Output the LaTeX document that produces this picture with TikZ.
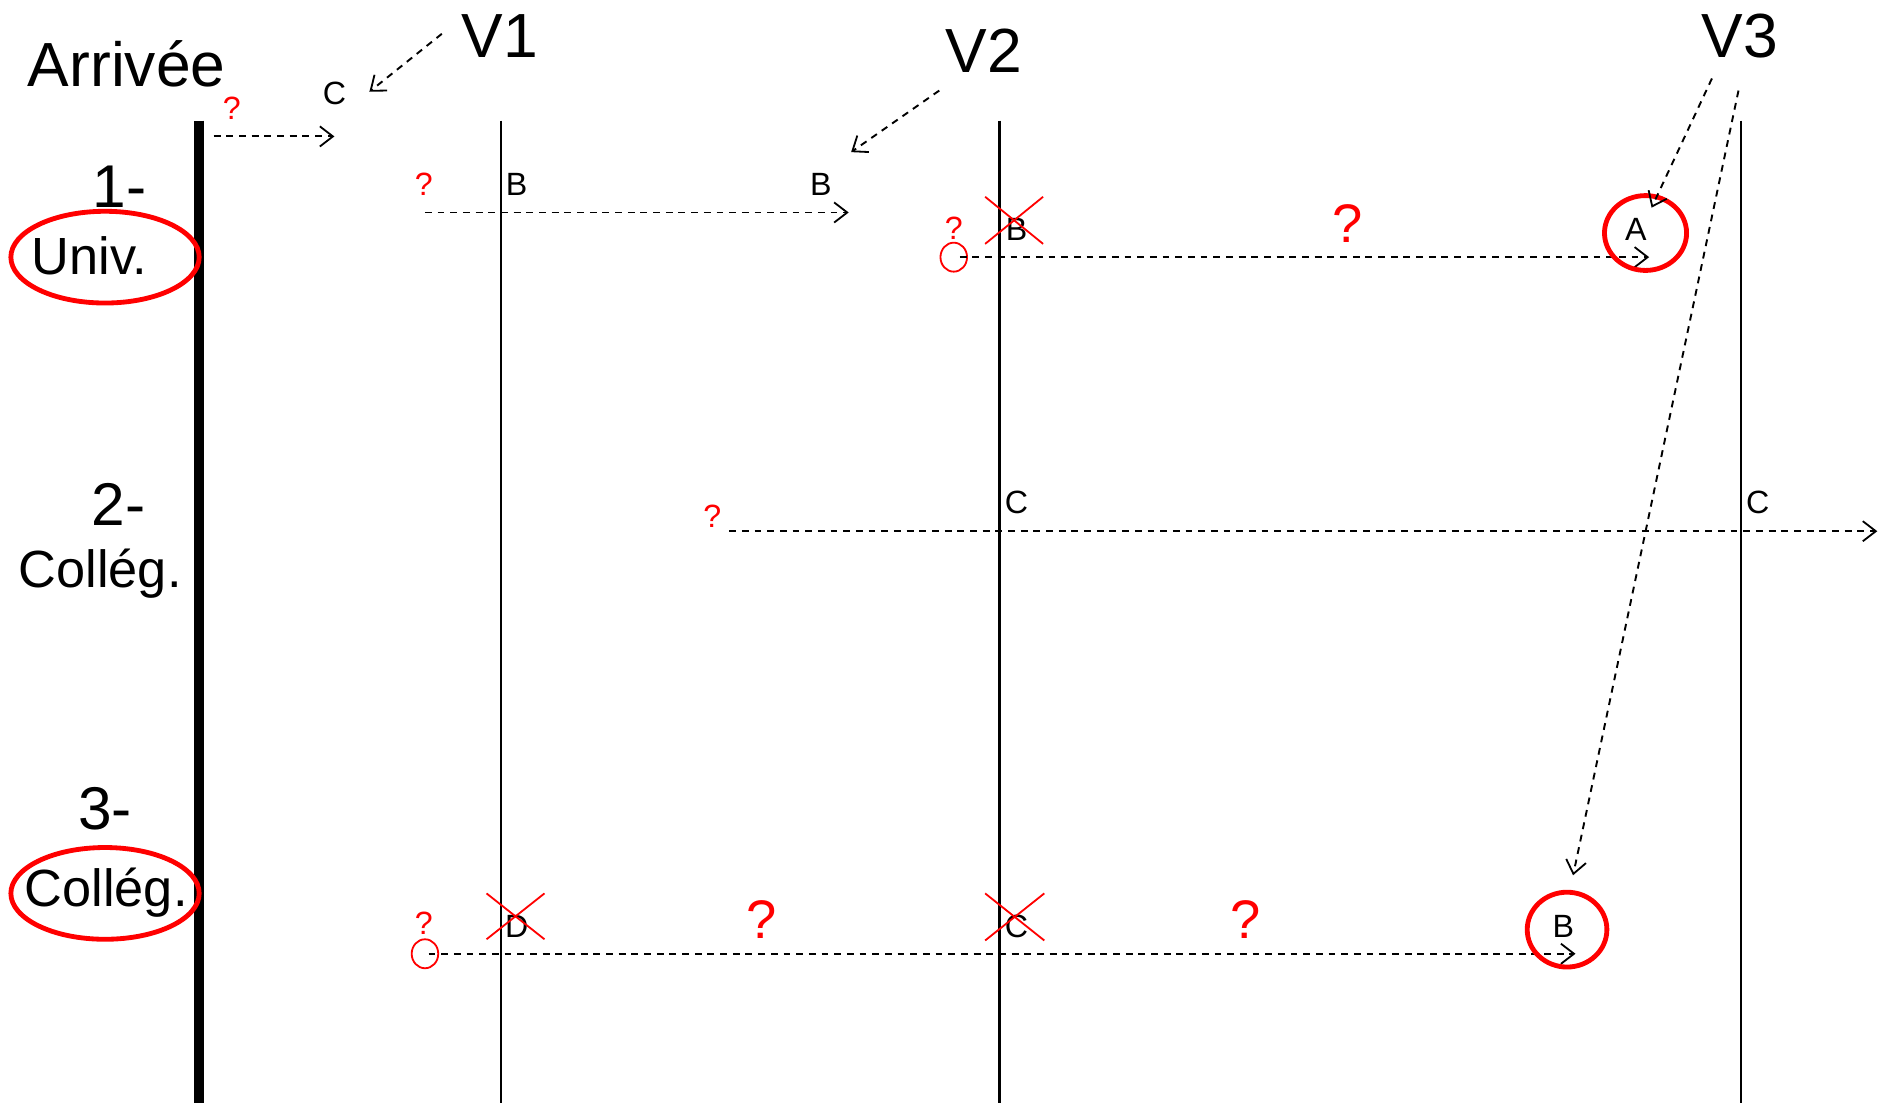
\documentclass[tikz,border=0pt]{standalone}
\usepackage{fontspec}
\setmainfont{Liberation Sans}
\usetikzlibrary{arrows.meta}
\begin{document}
\begin{tikzpicture}[x=0.6pt,y=-0.6pt,
  every node/.style={inner sep=0pt},
  biglab/.style={font=\fontsize{31}{31}\selectfont},
  numlab/.style={font=\fontsize{30}{30}\selectfont},
  catlab/.style={font=\fontsize{26}{26}\selectfont},
  letter/.style={font=\fontsize{16}{16}\selectfont},
  qsmall/.style={text=red,font=\fontsize{16}{16}\selectfont},
  qbig/.style={text=red,font=\fontsize{27}{27}\selectfont},
  dasharrow/.style={draw=black, line width=0.95pt, dash pattern=on 3.4pt off 2.9pt,
     -{Straight Barb[length=6.5pt,width=10pt,line width=0.9pt]}},
  vline/.style={draw=black, line width=1.15pt},
  redring/.style={draw=red, line width=2.4pt},
  thinring/.style={draw=red, line width=0.9pt},
  cross/.style={draw=red, line width=0.9pt}
]
\useasboundingbox[fill=white] (0,0) rectangle (1568,914);

% vertical lines
\coordinate (bt) at (165,100); \coordinate (bb) at (165,914);
\draw[line width=5pt] (bt) -- (bb);
\coordinate (l1t) at (415,100); \coordinate (l1b) at (415,914);
\coordinate (l2t) at (828,100); \coordinate (l2b) at (828,914);
\coordinate (l3t) at (1442,100); \coordinate (l3b) at (1442,914);
\draw[vline] (l1t) -- (l1b);
\draw[vline] (l2t) -- (l2b);
\draw[vline] (l3t) -- (l3b);

% left labels
\node[biglab] (arr) at (105,53) {Arrivée};
\node[numlab] (n1) at (99,155) {1-};
\node[catlab] (univ) at (74,212) {Univ.};
\draw[redring] (87,213) ellipse [x radius=78, y radius=38];
\node[numlab] (n2) at (98,418) {2-};
\node[catlab] (coll2) at (83,475) {Collég.};
\node[numlab] (n3) at (87,670) {3-};
\node[catlab] (coll3) at (88,739) {Collég.};
\draw[redring] (87,740) ellipse [x radius=78, y radius=38];

% V labels
\node[biglab] (v1) at (414,30) {V1};
\node[biglab] (v2) at (815,42) {V2};
\node[biglab] (v3) at (1441,30) {V3};

% top row
\node[qsmall] (q0) at (192,90) {?};
\node[letter] (c0) at (277,77) {C};
\coordinate (a0s) at (177,113); \coordinate (a0e) at (277,113);
\draw[dasharrow] (a0s) -- (a0e);
\coordinate (v1s) at (366,28); \coordinate (v1e) at (306,76);
\draw[dasharrow] (v1s) -- (v1e);

% row 1a
\node[qsmall] (q1) at (351,153) {?};
\node[letter] (b1) at (428,153) {B};
\node[letter] (b2) at (680,153) {B};
\coordinate (a1s) at (352,176); \coordinate (a1e) at (703,176);
\draw[dasharrow] (a1s) -- (a1e);
\coordinate (v2s) at (778,75); \coordinate (v2e) at (705,126);
\draw[dasharrow] (v2s) -- (v2e);

% row 1b
\node[qsmall] (q2) at (790,189) {?};
\draw[thinring] (790,213) ellipse [x radius=11, y radius=12];
\node[letter] (b3) at (842,190) {B};
\draw[cross] (816,163) -- (864,202);
\draw[cross] (816,202) -- (864,163);
\node[qbig] (q3) at (1116,185) {?};
\coordinate (a2s) at (795,213); \coordinate (a2e) at (1366,213);
\draw[dasharrow] (a2s) -- (a2e);
\node[letter] (aa) at (1355,190) {A};
\draw[redring] (1363,193) ellipse [x radius=34, y radius=31];

% V3 arrows
\coordinate (v3s) at (1418,65); \coordinate (v3e) at (1368,172);
\draw[dasharrow] (v3s) -- (v3e);
\coordinate (v3s2) at (1440,75); \coordinate (v3e2) at (1303,725);
\draw[dasharrow] (v3s2) -- (v3e2);

% row 2
\node[qsmall] (q4) at (590,428) {?};
\coordinate (a3s) at (604,440); \coordinate (a3e) at (1555,440);
\draw[dasharrow] (a3s) -- (a3e);
\node[letter] (c1) at (842,416) {C};
\node[letter] (c2) at (1456,416) {C};

% row 3
\node[qsmall] (q5) at (351,765) {?};
\draw[thinring] (352,790) ellipse [x radius=11, y radius=12];
\node[letter] (d1) at (428,767) {D};
\draw[cross] (403,740) -- (451,778);
\draw[cross] (403,778) -- (451,740);
\node[qbig] (q6) at (631,762) {?};
\node[letter] (c3) at (842,767) {C};
\draw[cross] (816,740) -- (865,779);
\draw[cross] (816,779) -- (865,740);
\node[qbig] (q7) at (1032,762) {?};
\coordinate (a4s) at (355,790); \coordinate (a4e) at (1305,790);
\draw[dasharrow] (a4s) -- (a4e);
\node[letter] (b4) at (1295,767) {B};
\draw[redring] (1298,770) ellipse [x radius=33, y radius=31];
\end{tikzpicture}
\end{document}
